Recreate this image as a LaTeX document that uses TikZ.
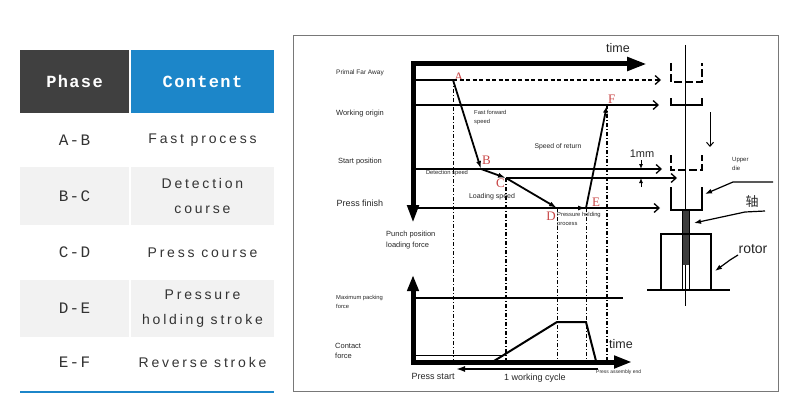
\documentclass[tikz,border=0pt]{standalone}
\usepackage{fontspec}
\setmainfont{Liberation Sans}
\newfontfamily\tabmono[LetterSpace=8]{Liberation Mono}
\newfontfamily\tabsans[LetterSpace=20]{Liberation Sans}
\newfontfamily\letserif{Liberation Serif}
\newfontfamily\cjk{Noto Sans CJK SC}
\usepackage{tikz}
\usetikzlibrary{arrows.meta}

\definecolor{hdrdark}{RGB}{64,64,64}
\definecolor{hdrblue}{RGB}{28,134,201}
\definecolor{rowgrey}{RGB}{242,242,242}
\definecolor{letred}{RGB}{200,70,70}
\definecolor{framegrey}{RGB}{120,120,120}
\definecolor{shaftgrey}{RGB}{60,60,60}

\newcommand{\fs}[1]{\fontsize{#1}{1.25\dimexpr#1pt\relax}\selectfont}

\begin{document}
\begin{tikzpicture}[x=1pt, y=-1pt,
	axis/.style={line width=5pt, line join=miter},
	level/.style={line width=1.3pt},
	openarr/.style={-{Straight Barb[length=5pt,width=9pt]}},
	stage/.style={line width=1.8pt, -{Latex[length=8pt,width=5pt]}},
	guide/.style={line width=1pt, dash pattern=on 4pt off 2pt on 1pt off 2pt},
	cup/.style={line width=2pt, line join=miter},
	ptlabel/.style={text=letred, font=\letserif\fs{13}, inner sep=1pt},
	leader/.style={line width=1.2pt, -{Latex[length=7pt,width=5pt]}}]
	\useasboundingbox (0,0) rectangle (800,412);

	% table
	\begin{scope}[every node/.style={inner sep=0pt, align=center, text=black!80}]
		\node [fill=hdrdark, text=white, minimum width=109pt, minimum height=63pt,
			font=\tabmono\bfseries\fs{17}] (hPhase) at (74.5,81.5) {Phase};
		\node [fill=hdrblue, text=white, minimum width=143pt, minimum height=63pt,
			font=\tabmono\bfseries\fs{17}] (hContent) at (202.5,81.5) {Content};
	\end{scope}
	\begin{scope}[every node/.style={inner sep=0pt, align=center, text=black!80},
		phasecell/.style={minimum width=109pt, font=\tabmono\fs{16}},
		textcell/.style={minimum width=143pt, font=\tabsans\fontsize{14}{25}\selectfont}]
		\node [phasecell, minimum height=54pt] (pAB) at (74.5,140) {A-B};
		\node [textcell, minimum height=54pt] (cAB) at (202.5,140) {Fast process};
		\node [phasecell, minimum height=58pt, fill=rowgrey] (pBC) at (74.5,196) {B-C};
		\node [textcell, minimum height=58pt, fill=rowgrey] (cBC) at (202.5,196) {Detection\\course};
		\node [phasecell, minimum height=55pt] (pCD) at (74.5,252.5) {C-D};
		\node [textcell, minimum height=55pt] (cCD) at (202.5,252.5) {Press course};
		\node [phasecell, minimum height=57pt, fill=rowgrey] (pDE) at (74.5,308.5) {D-E};
		\node [textcell, minimum height=57pt, fill=rowgrey] (cDE) at (202.5,308.5) {Pressure\\holding stroke};
		\node [phasecell, minimum height=51pt] (pEF) at (74.5,362.5) {E-F};
		\node [textcell, minimum height=51pt] (cEF) at (202.5,362.5) {Reverse stroke};
	\end{scope}
	\draw [hdrblue, line width=2.5pt] (20,392) -- (274,392);

	% chart frame
	\draw [framegrey, line width=1pt] (293,36) rectangle (778,391);

	% stroke points
	\coordinate [label={[ptlabel, yshift=3pt]right:A}] (A) at (453,80);
	\coordinate [label={[ptlabel, yshift=3pt]above right:B}] (B) at (481,169);
	\coordinate [label={[ptlabel]below left:C}] (C) at (506,178);
	\coordinate [label={[ptlabel, yshift=-3pt]below left:D}] (D) at (557,208);
	\coordinate [label={[ptlabel, xshift=5pt]above right:E}] (E) at (586,208);
	\coordinate [label={[ptlabel]above right:F}] (F) at (607,105);
	\coordinate (base) at (413,360);

	% level lines
	\coordinate (far0) at (413,80);   \coordinate (farEnd) at (661,80);
	\coordinate (orig0) at (413,105); \coordinate (origEnd) at (659,105);
	\coordinate (start0) at (413,169); \coordinate (startEnd) at (662,169);
	\coordinate (startBEnd) at (677,178);
	\coordinate (press0) at (413,208); \coordinate (pressEnd) at (660,208);
	\draw [level] (far0) -- (A);
	\draw [level, openarr, dash pattern=on 4pt off 2.5pt] (A) -- (farEnd);
	\draw [level, openarr] (orig0) -- (origEnd);
	\draw [level, openarr] (start0) -- (startEnd);
	\draw [level, openarr] (C) -- (startBEnd);
	\draw [level, openarr] (press0) -- (pressEnd);

	% guides down to the force axis
	\draw [guide] (A) -- (A |- base);
	\draw [guide, line width=1.4pt] (C) -- (C |- base);
	\draw [guide] (D) -- (D |- base);
	\draw [guide] (E) -- (E |- base);
	\draw [guide, line width=1.4pt] (F) -- (F |- base);

	% axes
	\draw [axis, {Triangle[length=18pt,width=11pt]}-{Triangle[length=20pt,width=13pt]}]
		(413,223) -- (413,64) -- (647,64);
	\draw [axis, {Triangle[length=16pt,width=11pt]}-{Triangle[length=18pt,width=12pt]}]
		(413,275) -- (413,362) -- (632,362);

	% stroke path
	\path [stage] (A) edge (B) (B) edge (C) (C) edge (D) (D) edge (E) (E) edge (F);

	% 1mm gap
	\coordinate (gapTop) at (641,160); \coordinate (gapBot) at (641,187);
	\draw [line width=1pt, -{Latex[length=5pt,width=4pt]}] (gapTop) -- (start0 -| gapTop);
	\draw [line width=1pt, -{Latex[length=5pt,width=4pt]}] (gapBot) -- (startBEnd -| gapBot);

	% force chart
	\coordinate (maxL) at (413,298); \coordinate (maxR) at (623,298);
	\coordinate (contL) at (413,355); \coordinate (contR) at (503,355);
	\draw [level] (maxL) -- (maxR);
	\draw [line width=0.8pt] (contL) -- (contR);
	\draw [line width=2pt, line join=miter] (494,361) -- (557,322) -- (586,322) -- (596,361);
	\coordinate (cycR) at (598,369); \coordinate (cycL) at (456,369);
	\draw [line width=1.6pt, -{Latex[length=9pt,width=6pt]}] (cycR) -- (cycL);

	% chart texts
	\begin{scope}[every node/.style={inner sep=0pt, text=black!85}]
		\node [font=\fs{6.5}] (tFar) at (360,73) {Primal Far Away};
		\node [font=\fs{7.5}] (tOrig) at (360,114) {Working origin};
		\node [font=\fs{7.5}] (tStart) at (360,162) {Start position};
		\node [font=\fs{9}] (tPress) at (360,203) {Press finish};
		\node [font=\fontsize{7.5}{11}\selectfont, align=left, anchor=west] (tPunch) at (386,240.5) {Punch position\\loading force};
		\node [font=\fontsize{5.8}{9}\selectfont, align=left, anchor=west] (tMax) at (336,301.5) {Maximum packing\\force};
		\node [font=\fontsize{7.5}{10}\selectfont, align=left, anchor=west] (tCont) at (335,351) {Contact\\force};
		\node [font=\fontsize{5.8}{9}\selectfont, align=left, anchor=west] (tFast) at (474,117.5) {Fast forward\\speed};
		\node [font=\fs{6.8}] (tReturn) at (558,147) {Speed of return};
		\node [font=\fs{5.8}] (tDetect) at (447,173) {Detection speed};
		\node [font=\fs{7}] (tLoad) at (492,197) {Loading speed};
		\node [font=\fontsize{5.8}{9}\selectfont, align=left, anchor=west] (tHold) at (557,219.5) {Pressure holding\\process};
		\node [font=\fs{11}] (tGap) at (642,154) {1mm};
		\node [font=\fs{12.5}] (tTime) at (618,48) {time};
		\node [font=\fs{12.5}, anchor=west] (tTime2) at (609,344) {time};
		\node [font=\fs{9}] (tPStart) at (433,376) {Press start};
		\node [font=\fs{9}] (tCycle) at (535,378) {1 working cycle};
		\node [font=\fs{5}, anchor=west] (tPEnd) at (596,372) {Press assembly end};
	\end{scope}

	% die and rotor
	\draw [line width=0.8pt] (685,45) -- (685,306);
	\draw [cup, dash pattern=on 8pt off 3pt] (671,63) -- (671,82) -- (702,82) -- (702,63);
	\draw [cup] (671,98) -- (671,105) -- (702,105) -- (702,98);
	\draw [cup, dash pattern=on 8pt off 3pt] (671,155) -- (671,170) -- (702,170) -- (702,155);
	\draw [cup] (671,187) -- (671,210) -- (702,210) -- (702,187);
	\coordinate (moveTop) at (710,112); \coordinate (moveBot) at (710,147);
	\draw [line width=1pt, -{Straight Barb[length=4pt,width=7pt]}] (moveTop) -- (moveBot);
	\fill [shaftgrey] (682,210) rectangle (689,265);
	\draw [line width=1pt] (682,210) rectangle (689,290);
	\draw [line width=1.5pt, line join=miter] (661,290) -- (661,234) -- (711,234) -- (711,290);
	\draw [line width=1.5pt] (647,290) -- (730,290);

	\begin{scope}[every node/.style={inner sep=0pt, text=black!85}]
		\node [font=\fontsize{6}{9}\selectfont, align=left, anchor=north west] (tDie) at (732,157) {Upper\\die};
		\node [font=\cjk\fs{13}] (tShaft) at (752,202) {轴};
		\node [font=\fs{14}] (tRotor) at (753,249) {rotor};
	\end{scope}
	\coordinate (dieA) at (773,182); \coordinate (dieB) at (733,182); \coordinate (dieTip) at (705,194);
	\coordinate (shA) at (765,211); \coordinate (shB) at (745,212); \coordinate (shTip) at (694,223);
	\coordinate (roA) at (738,255); \coordinate (roB) at (730,260); \coordinate (roTip) at (715,271);
	\draw [leader] (dieA) -- (dieB) -- (dieTip);
	\draw [leader] (shA) -- (shB) -- (shTip);
	\draw [leader] (roA) -- (roB) -- (roTip);
\end{tikzpicture}
\end{document}
